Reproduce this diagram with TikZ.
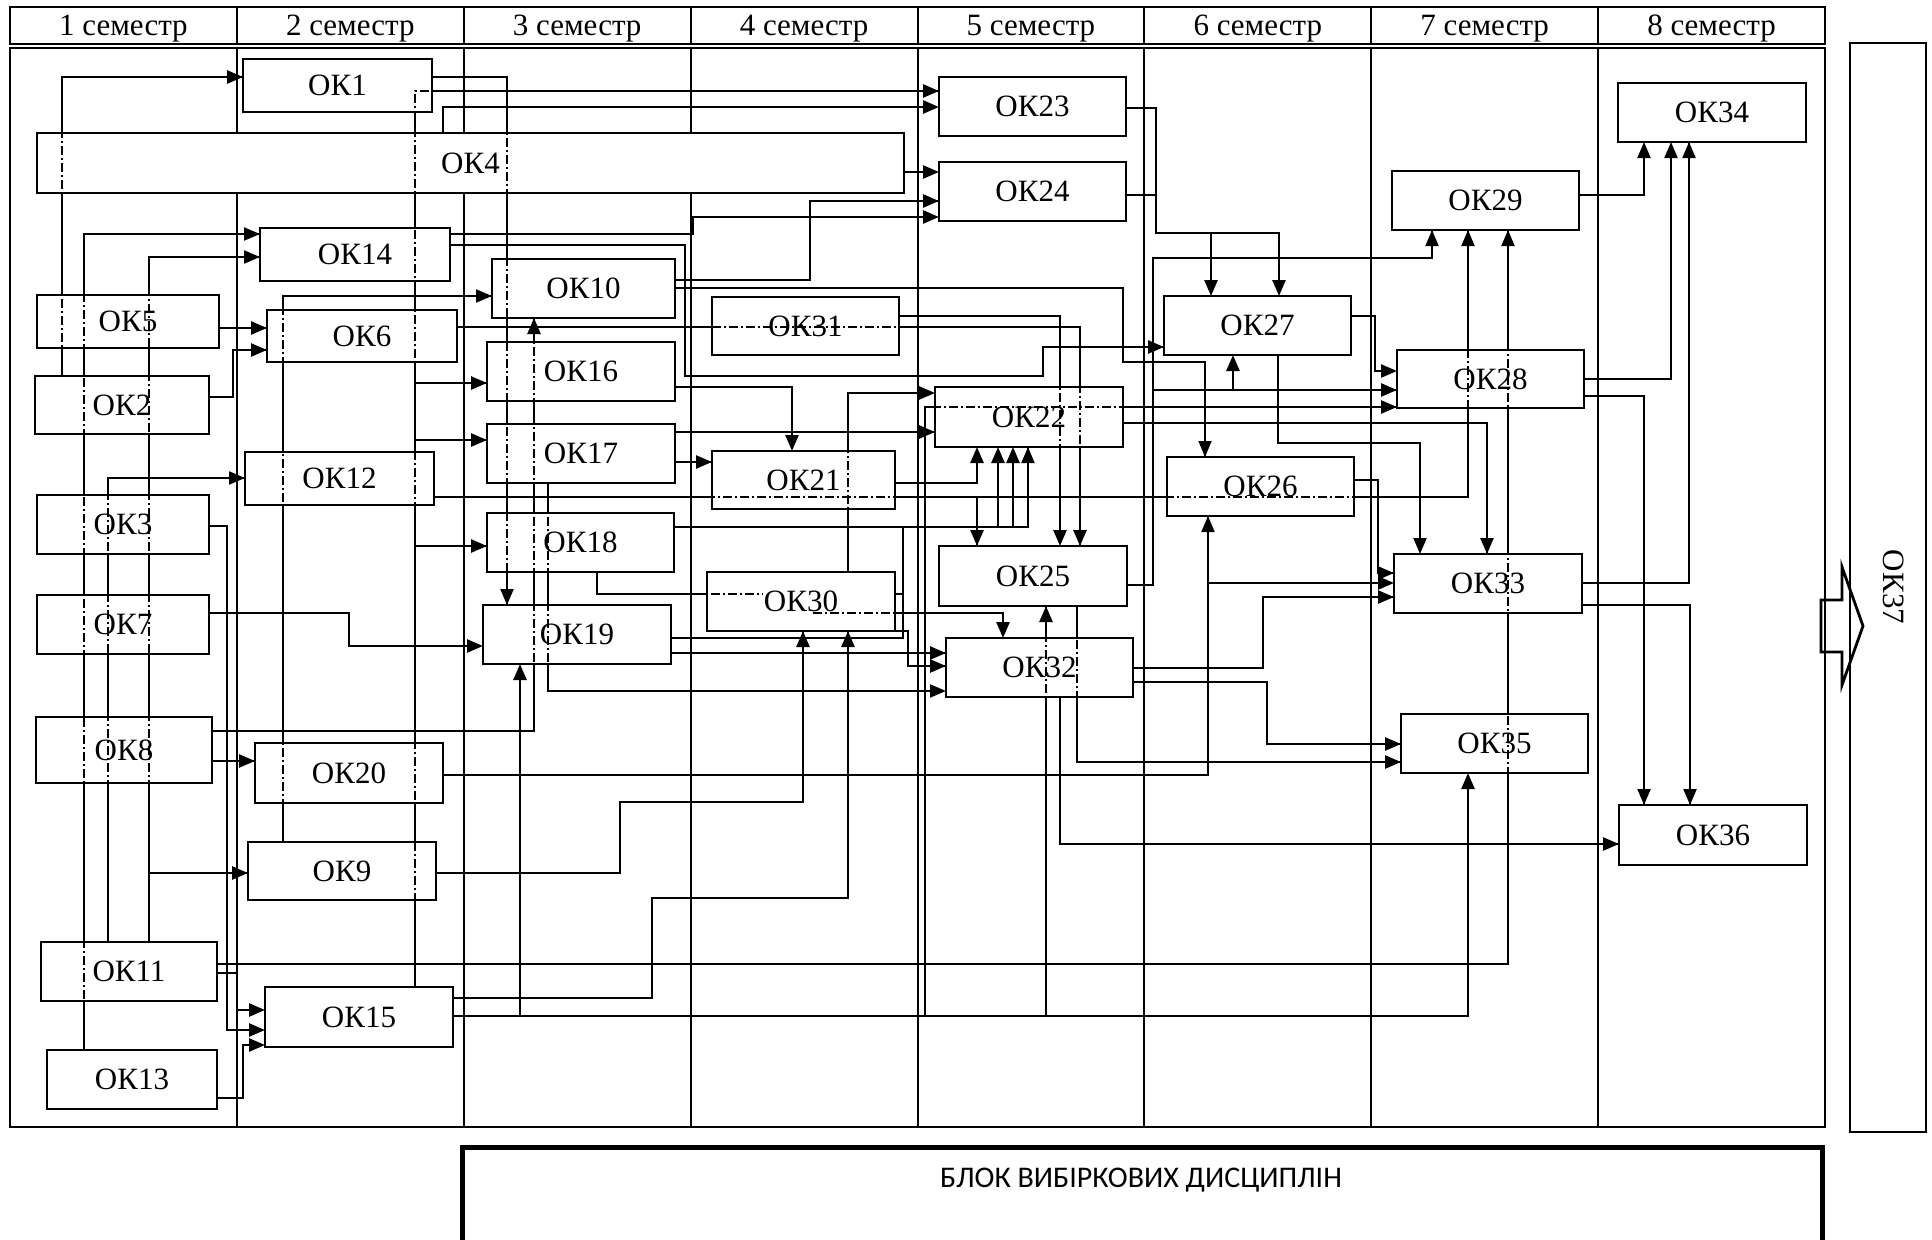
\documentclass[tikz,border=0pt]{standalone}
\usepackage{fontspec}
\setmainfont{Liberation Serif}
\newfontfamily\cbfont{Carlito}
\usetikzlibrary{arrows.meta,fit}
\pgfdeclarelayer{bg}
\pgfdeclarelayer{fg}
\pgfsetlayers{bg,main,fg}
\tikzset{
  okbox/.style={draw,line width=2.8pt,fill=white,inner sep=0pt,outer sep=0pt,font=\fontsize{31}{36}\selectfont},
  conn/.style={line width=2.6pt,line join=miter},
  tline/.style={line width=1.5pt},
  mid/.style={line width=2.1pt},
  arr/.style={-{Triangle[length=16pt,width=13pt]}},
  thru/.style={-,line width=1.2pt,dash pattern=on 9pt off 3pt on 2pt off 3pt},
  frame/.style={line width=2pt},
}
\newcommand\okb[6]{%
  \pgfmathsetmacro\okbw{#4-#2}\pgfmathsetmacro\okbh{#5-#3}%
  \pgfmathsetmacro\okbx{(#2+#4)/2}\pgfmathsetmacro\okby{(#3+#5)/2}%
  \node[okbox,minimum width=\okbw pt,minimum height=\okbh pt] (#1) at (\okbx,\okby) {#6};}
\newcommand\okline[2][]{%
  \begin{pgfonlayer}{bg}\draw[conn,#1] #2;\end{pgfonlayer}%
  \begin{pgfonlayer}{fg}\draw[conn,#1,thru] #2;\end{pgfonlayer}}
\begin{document}
\begin{tikzpicture}[x=1pt,y=-1pt]
\useasboundingbox (0,0) rectangle (1932,1239);
\begin{pgfonlayer}{bg}
  \fill[white] (0,0) rectangle (1932,1239);
  \draw[frame] (10,7) rectangle (1825,44);
  \draw[frame] (10,48) rectangle (1825,1127);
  \foreach \i in {1,...,7}{
    \pgfmathsetmacro\cx{10+\i*226.875}
    \draw[frame] (\cx,7) -- (\cx,44);
    \draw[frame] (\cx,48) -- (\cx,1127);
  }
\end{pgfonlayer}
\foreach \i in {1,...,8}{
  \pgfmathsetmacro\cx{10+(\i-0.5)*226.875}
  \node[anchor=base,font=\fontsize{31}{36}\selectfont] (h\i) at (\cx,36) {\i\ семестр};
}
% boxes
\okb{o1}{243}{59}{432}{112}{ОК1}
\okb{o4}{37}{133}{904}{193}{ОК4}
\okb{o14}{260}{228}{450}{281}{ОК14}
\okb{o5}{37}{295}{219}{348}{ОК5}
\okb{o6}{267}{310}{457}{362}{ОК6}
\okb{o2}{35}{376}{209}{434}{ОК2}
\okb{o10}{492}{259}{675}{318}{ОК10}
\okb{o16}{487}{342}{675}{401}{ОК16}
\okb{o31}{712}{297}{899}{355}{ОК31}
\okb{o23}{939}{77}{1126}{136}{ОК23}
\okb{o24}{939}{162}{1126}{221}{ОК24}
\okb{o27}{1164}{296}{1351}{355}{ОК27}
\okb{o29}{1392}{171}{1579}{230}{ОК29}
\okb{o34}{1618}{83}{1806}{142}{ОК34}
\okb{o28}{1397}{350}{1584}{408}{ОК28}
\okb{o22}{935}{387}{1123}{447}{ОК22}
\okb{o12}{245}{452}{434}{505}{ОК12}
\okb{o3}{37}{495}{209}{554}{ОК3}
\okb{o7}{37}{595}{209}{654}{ОК7}
\okb{o8}{36}{717}{212}{783}{ОК8}
\okb{o20}{255}{743}{443}{803}{ОК20}
\okb{o17}{487}{424}{675}{483}{ОК17}
\okb{o18}{487}{513}{674}{572}{ОК18}
\okb{o19}{483}{605}{671}{664}{ОК19}
\okb{o21}{712}{451}{895}{509}{ОК21}
\okb{o30}{707}{572}{895}{631}{ОК30}
\okb{o25}{939}{546}{1127}{606}{ОК25}
\okb{o32}{946}{638}{1133}{697}{ОК32}
\okb{o26}{1167}{457}{1354}{516}{ОК26}
\okb{o33}{1394}{554}{1582}{613}{ОК33}
\okb{o35}{1401}{714}{1588}{773}{ОК35}
\okb{o36}{1619}{805}{1807}{865}{ОК36}
\okb{o9}{248}{842}{436}{900}{ОК9}
\okb{o11}{41}{942}{217}{1001}{ОК11}
\okb{o15}{265}{987}{453}{1047}{ОК15}
\okb{o13}{47}{1050}{217}{1109}{ОК13}
% junctions
\coordinate (j16) at (415,383);
\coordinate (j17) at (415,440);
\coordinate (j18) at (415,546);
\coordinate (j9) at (149,873);
\coordinate (j27a) at (1211,233);
\coordinate (j24) at (1156,195);
\coordinate (j28a) at (1153,390);
\coordinate (j27b) at (1233,390);
\coordinate (j25b) at (1046,1016);
\coordinate (j19b) at (520,1016);
\coordinate (j25t) at (977,497);
\coordinate (j22a) at (998,527);
\coordinate (j22b) at (1013,527);
\coordinate (j903) at (903,527);
\coordinate (j30e) at (903,594);
\coordinate (c30a) at (813,613);
\coordinate (c30b) at (763,594);
\coordinate (j33) at (1208,583);
% connectors
\okline[arr]{(62,0|-o2.north) |- (o1.west|-0,77)}
\okline[arr,mid]{(84,0|-o13.north) |- (o14.west|-0,234)}
\okline[arr,mid]{(149,0|-o11.north) |- (o14.west|-0,257)}
\okline[arr]{(j9) -- (o9.west|-0,873)}
\okline[arr,mid]{(108,0|-o11.north) |- (o12.west|-0,478)}
\okline[arr]{(o5.east|-0,328) -- (o6.west|-0,328)}
\okline[arr]{(o2.east|-0,397) -| (233,350) -- (o6.west|-0,350)}
\okline[arr,mid]{(o1.east|-0,77) -| (507,0|-o19.north)}
\okline[arr]{(415,0|-o15.north) |- (o23.west|-0,91)}
\okline[arr]{(j16) -- (o16.west|-0,383)}
\okline[arr]{(j17) -- (o17.west|-0,440)}
\okline[arr]{(j18) -- (o18.west|-0,546)}
\okline[arr]{(443,0|-o4.north) |- (o23.west|-0,107)}
\okline[arr]{(o4.east|-0,172) -- (o24.west|-0,172)}
\okline[arr]{(o14.east|-0,234) -| (693,217) -- (o24.west|-0,217)}
\okline[arr]{(o14.east|-0,245) -| (685,376) -| (1043,347) -- (o27.west|-0,347)}
\okline[arr,mid]{(283,0|-o9.north) |- (o10.west|-0,296)}
\okline[arr]{(o6.east|-0,327) -| (1080,0|-o25.north)}
\okline[arr]{(o31.east|-0,316) -| (1060,0|-o25.north)}
\okline[arr]{(o10.east|-0,280) -| (810,201) -- (o24.west|-0,201)}
\okline[arr,tline]{(o10.east|-0,288) -| (1123,362) -| (1205,0|-o26.north)}
\okline[arr]{(o16.east|-0,387) -| (792,0|-o21.north)}
\okline[arr]{(848,0|-o30.north) |- (o22.west|-0,393)}
\okline[arr]{(o17.east|-0,432) -- (o22.west|-0,432)}
\okline[arr]{(o17.east|-0,462) -- (o21.west|-0,462)}
\okline[arr,mid]{(548,0|-o17.south) |- (o32.west|-0,691)}
\okline[arr]{(o8.east|-0,731) -| (534,0|-o10.south)}
\okline[arr]{(o8.east|-0,761) -- (o20.west|-0,761)}
\okline[arr]{(o7.east|-0,613) -| (349,646) -- (o19.west|-0,646)}
\okline[arr]{(o3.east|-0,526) -| (227,1030) -- (o15.west|-0,1030)}
\okline[arr]{(o11.east|-0,973) -| (237,1010) -- (o15.west|-0,1010)}
\okline[arr]{(o13.east|-0,1098) -| (243,1045) -- (o15.west|-0,1045)}
\okline[arr]{(o15.east|-0,1016) -| (925,407) -- (o28.west|-0,407)}
\okline[arr]{(o15.east|-0,1016) -| (1468,0|-o35.south)}
\okline[arr]{(j19b) -- (520,0|-o19.south)}
\okline[arr]{(j25b) -- (1046,0|-o25.south)}
\okline[arr]{(o15.east|-0,998) -| (652,898) -| (848,0|-o30.south)}
\okline[arr]{(o9.east|-0,873) -| (620,802) -| (803,0|-o30.south)}
\okline[arr,mid]{(o11.east|-0,964) -| (1508,0|-o29.south)}
\okline[arr,mid]{(o12.east|-0,497) -| (1468,0|-o29.south)}
\okline[arr]{(j25t) -- (977,0|-o25.north)}
\okline[arr]{(o21.east|-0,483) -| (977,0|-o22.south)}
\okline[arr,mid]{(o18.east|-0,527) -| (1028,0|-o22.south)}
\okline{(o19.east|-0,638) -| (j903)}
\okline{(o30.east|-0,594) -- (j30e)}
\okline[arr]{(j22a) -- (998,0|-o22.south)}
\okline[arr]{(j22b) -- (1013,0|-o22.south)}
\okline[tline]{(597,0|-o18.south) |- (c30b)}
\okline[arr]{(c30a) -| (1003,0|-o32.north)}
\okline[arr]{(872,0|-o30.south) -| (908,666) -- (o32.west|-0,666)}
\okline[arr]{(o19.east|-0,653) -- (o32.west|-0,653)}
\okline[arr,mid]{(o20.east|-0,775) -| (1208,0|-o26.south)}
\okline[arr]{(j33) -- (o33.west|-0,583)}
\okline[arr]{(1077,0|-o25.south) |- (o35.west|-0,762)}
\okline[arr]{(o32.east|-0,668) -| (1263,597) -- (o33.west|-0,597)}
\okline[arr]{(o32.east|-0,682) -| (1267,744) -- (o35.west|-0,744)}
\okline[arr]{(1060,0|-o32.south) |- (o36.west|-0,844)}
\okline[arr]{(o26.east|-0,480) -| (1378,573) -- (o33.west|-0,573)}
\okline[arr]{(o22.east|-0,423) -| (1487,0|-o33.north)}
\okline[arr,mid]{(1278,0|-o27.south) |- (1420,443) -- (1420,0|-o33.north)}
\okline[arr]{(o23.east|-0,108) -| (1156,233) -| (1279,0|-o27.north)}
\okline[arr]{(j27a) -- (1211,0|-o27.north)}
\okline[tline]{(o24.east|-0,195) -- (j24)}
\okline[arr,mid]{(o25.east|-0,585) -| (1153,258) -| (1432,0|-o29.south)}
\okline[arr]{(j28a) -- (o28.west|-0,390)}
\okline[arr]{(j27b) -- (1233,0|-o27.south)}
\okline[arr]{(o27.east|-0,316) -| (1375,371) -- (o28.west|-0,371)}
\okline[arr,mid]{(o29.east|-0,195) -| (1644,0|-o34.south)}
\okline[arr,mid]{(o28.east|-0,379) -| (1671,0|-o34.south)}
\okline[arr,mid]{(o33.east|-0,583) -| (1689,0|-o34.south)}
\okline[arr,mid]{(o28.east|-0,396) -| (1644,0|-o36.north)}
\okline[arr,mid]{(o33.east|-0,605) -| (1690,0|-o36.north)}
% OK37
\node[draw,line width=2.1pt,fit={(1850,43)(1926,1132)},inner sep=0pt] (o37) {};
\node[rotate=-90,font=\fontsize{31}{36}\selectfont] (o37t) at (1894,587) {ОК37};
\draw[line width=2.8pt,line join=miter] (1821,600) -- (1842,600) -- (1842,567) -- (1863,626) -- (1842,685) -- (1842,652) -- (1821,652) -- cycle;
% elective block
\node[draw,line width=5pt,fit={(462,1147)(1822,1275)},inner sep=0pt] (vb) {};
\node[font=\cbfont\fontsize{30}{36}\selectfont] (vbt) at (1141,1180) {БЛОК ВИБІРКОВИХ ДИСЦИПЛІН};
\end{tikzpicture}
\end{document}
